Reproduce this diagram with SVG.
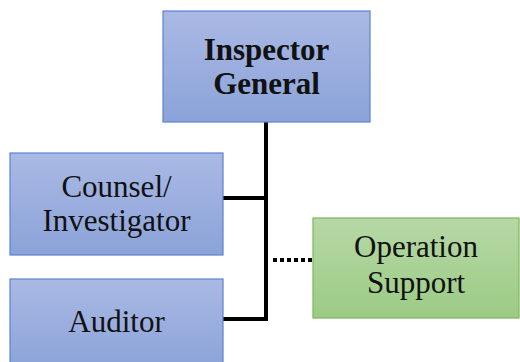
<svg xmlns="http://www.w3.org/2000/svg" width="520" height="362" viewBox="0 0 520 362">
  <defs>
    <linearGradient id="blueFill" x1="0" y1="0" x2="0" y2="1">
      <stop offset="0" stop-color="#AAB9E4"/>
      <stop offset="1" stop-color="#8BA3D9"/>
    </linearGradient>
    <linearGradient id="greenFill" x1="0" y1="0" x2="0" y2="1">
      <stop offset="0" stop-color="#B6D8A5"/>
      <stop offset="1" stop-color="#9CCB85"/>
    </linearGradient>
    <style>
      .blue { fill: url(#blueFill); stroke: #5B83D0; stroke-width: 1.2; }
      .green { fill: url(#greenFill); stroke: #7DB55A; stroke-width: 1.2; }
      .label { font-family: 'Liberation Serif', 'DejaVu Serif', serif; font-size: 31px; fill: #111; text-anchor: middle; }
      .bold { font-weight: bold; }
      .link { fill: none; stroke: #000; stroke-width: 4; }
      .dotted { fill: none; stroke: #000; stroke-width: 4; stroke-dasharray: 4 3; }
    </style>
  </defs>

  <g id="connectors">
    <polyline class="link" points="266,122 266,319 223,319"/>
    <line class="link" x1="223" y1="198" x2="266" y2="198"/>
    <line class="dotted" x1="273" y1="260" x2="313" y2="260"/>
  </g>

  <g id="inspector-general">
    <rect class="blue" x="163" y="11" width="207" height="111"/>
    <text class="label bold" x="266.5" y="60">Inspector</text>
    <text class="label bold" x="266.5" y="94">General</text>
  </g>

  <g id="counsel-investigator">
    <rect class="blue" x="10" y="153" width="213" height="102"/>
    <text class="label" x="116.5" y="197">Counsel/</text>
    <text class="label" x="116.5" y="231">Investigator</text>
  </g>

  <g id="auditor">
    <rect class="blue" x="10" y="279" width="213" height="90"/>
    <text class="label" x="116.5" y="332">Auditor</text>
  </g>

  <g id="operation-support">
    <rect class="green" x="313" y="218" width="206" height="100"/>
    <text class="label" x="416" y="257">Operation</text>
    <text class="label" x="416" y="293">Support</text>
  </g>
</svg>
